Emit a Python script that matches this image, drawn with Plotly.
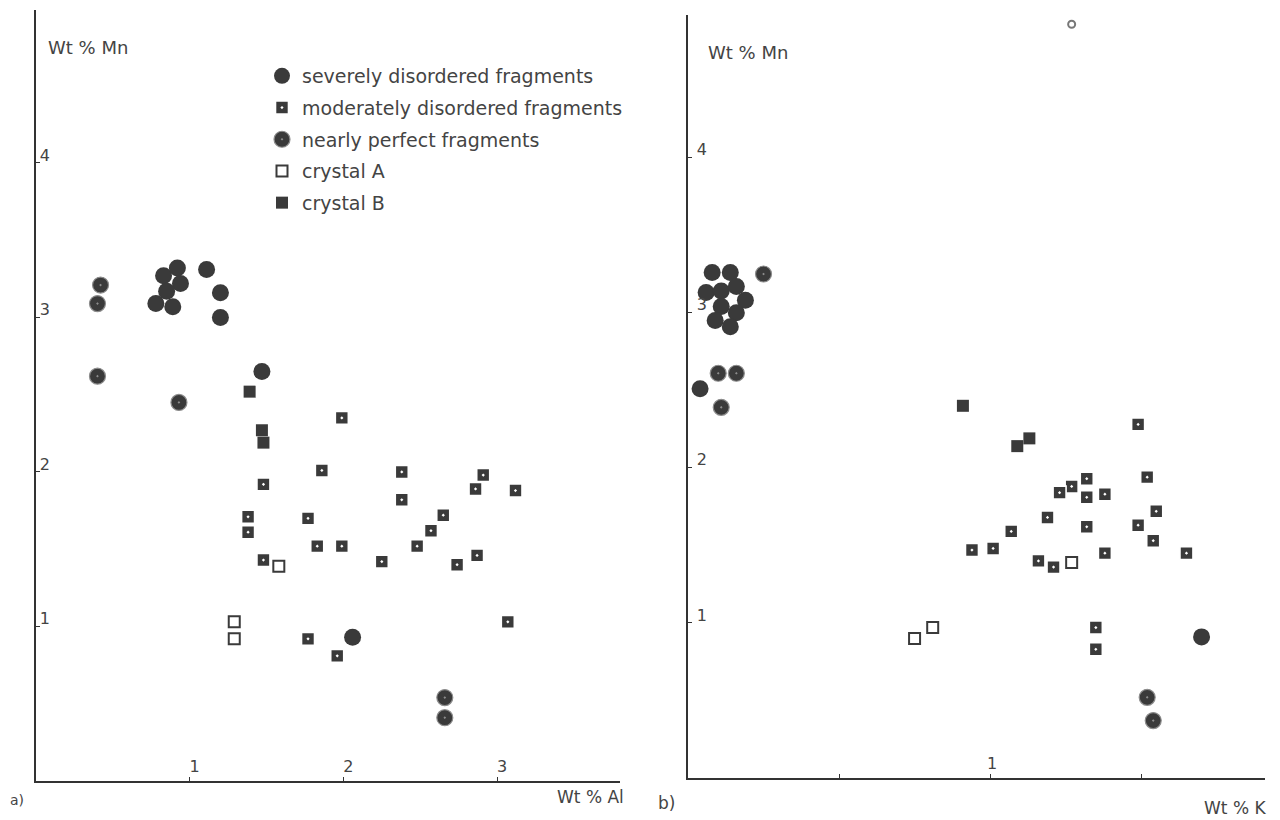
import plotly.graph_objects as go

# ---------------- Panel a: Wt % Al vs Wt % Mn ----------------
a_severe_x = [0.83, 0.92, 0.94, 0.85, 0.78, 0.89, 1.11, 1.20, 1.20, 1.47, 2.06]
a_severe_y = [3.27, 3.32, 3.22, 3.17, 3.09, 3.07, 3.31, 3.16, 3.00, 2.65, 0.93]

a_moderate_x = [1.99, 1.86, 1.48, 1.38, 1.38, 1.77, 1.83, 1.99, 1.48, 2.38, 2.38, 2.65,
                2.57, 2.48, 2.25, 2.91, 2.86, 3.12, 2.87, 2.74, 1.77, 1.96, 3.07]
a_moderate_y = [2.35, 2.01, 1.92, 1.71, 1.61, 1.70, 1.52, 1.52, 1.43, 2.00, 1.82, 1.72,
                1.62, 1.52, 1.42, 1.98, 1.89, 1.88, 1.46, 1.40, 0.92, 0.81, 1.03]

a_perfect_x = [0.42, 0.40, 0.40, 0.93, 2.66, 2.66]
a_perfect_y = [3.21, 3.09, 2.62, 2.45, 0.54, 0.41]

a_crystalA_x = [1.29, 1.29, 1.58]
a_crystalA_y = [1.03, 0.92, 1.39]

a_crystalB_x = [1.39, 1.47, 1.48]
a_crystalB_y = [2.52, 2.27, 2.19]

# ---------------- Panel b: Wt % K vs Wt % Mn ----------------
b_severe_x = [0.08, 0.14, 0.06, 0.11, 0.16, 0.19, 0.11, 0.16, 0.09, 0.14, 0.04, 1.70]
b_severe_y = [3.26, 3.26, 3.13, 3.14, 3.17, 3.08, 3.04, 3.00, 2.95, 2.91, 2.51, 0.91]

b_moderate_x = [1.49, 1.52, 1.55, 1.49, 1.54, 1.65, 1.32, 1.27, 1.23, 1.32, 1.38,
                1.19, 1.32, 1.07, 1.01, 0.94, 1.16, 1.21, 1.38, 1.35, 1.35]
b_moderate_y = [2.28, 1.94, 1.72, 1.63, 1.53, 1.45, 1.93, 1.88, 1.84, 1.81, 1.83,
                1.68, 1.62, 1.59, 1.48, 1.47, 1.40, 1.36, 1.45, 0.97, 0.83]

b_perfect_x = [0.25, 0.10, 0.16, 0.11, 1.52, 1.54]
b_perfect_y = [3.25, 2.61, 2.61, 2.39, 0.52, 0.37]

b_crystalA_x = [0.75, 0.81, 1.27]
b_crystalA_y = [0.90, 0.97, 1.39]

b_crystalB_x = [0.91, 1.09, 1.13]
b_crystalB_y = [2.40, 2.14, 2.19]

b_stray_x = [1.27]
b_stray_y = [4.86]

# ---------------- labels ----------------
series_names = ["severely disordered fragments", "moderately disordered fragments",
                "nearly perfect fragments", "crystal A", "crystal B"]
a_xtick_vals = [1, 2, 3]
a_xtick_text = ["1", "2", "3"]
b_xtick_vals = [0.5, 1, 1.5]
b_xtick_text = ["", "1", ""]
y_tick_vals = [1, 2, 3, 4]
y_tick_text = ["1", "2", "3", "4"]

INK = "#3a3a3a"
FONT = "DejaVu Sans"
W, H, OFF = 1280, 820, 8  # page body margin offsets the figure by 8px


def fx(px):
    return (px - OFF) / W


def fy(py):
    return (H + OFF - py) / H


styles = [
    dict(symbol="circle", size=17, color=INK, line=dict(color=INK, width=0)),
    dict(symbol="square-dot", size=13, color=INK, line=dict(color="white", width=1.6)),
    dict(symbol="circle-dot", size=16, color=INK, line=dict(color="#8c8c8c", width=1.2)),
    dict(symbol="square-open", size=11, color=INK, line=dict(color=INK, width=2)),
    dict(symbol="square", size=12, color=INK, line=dict(color=INK, width=0)),
]

fig = go.Figure()

a_sets = [(a_severe_x, a_severe_y), (a_moderate_x, a_moderate_y), (a_perfect_x, a_perfect_y),
          (a_crystalA_x, a_crystalA_y), (a_crystalB_x, a_crystalB_y)]
b_sets = [(b_severe_x, b_severe_y), (b_moderate_x, b_moderate_y), (b_perfect_x, b_perfect_y),
          (b_crystalA_x, b_crystalA_y), (b_crystalB_x, b_crystalB_y)]

for i, ((xs, ys), name) in enumerate(zip(a_sets, series_names)):
    fig.add_trace(go.Scatter(x=xs, y=ys, mode="markers", name=name, marker=styles[i],
                             xaxis="x", yaxis="y", legendgroup=f"g{i}", showlegend=True))
for i, ((xs, ys), name) in enumerate(zip(b_sets, series_names)):
    fig.add_trace(go.Scatter(x=xs, y=ys, mode="markers", name=name, marker=styles[i],
                             xaxis="x2", yaxis="y2", legendgroup=f"g{i}", showlegend=False))
fig.add_trace(go.Scatter(x=b_stray_x, y=b_stray_y, mode="markers", showlegend=False,
                         marker=dict(symbol="circle-open", size=7, color="#777", line=dict(width=2)),
                         xaxis="x2", yaxis="y2"))

axis_common = dict(showgrid=False, zeroline=False, showline=True, linecolor="#333",
                   linewidth=2, ticks="inside", ticklen=4, tickcolor="#333",
                   ticklabelposition="inside", tickfont=dict(family=FONT, size=16, color="#444"))

fig.update_layout(
    width=W, height=H,
    margin=dict(l=0, r=0, t=0, b=0),
    paper_bgcolor="white", plot_bgcolor="white",
    font=dict(family=FONT, color="#444"),
    xaxis=dict(domain=[fx(36), fx(620)], range=[0, 3.8], anchor="y",
               tickvals=a_xtick_vals, ticktext=a_xtick_text, ticklabelshift=5,
               ticklabelstandoff=2, **axis_common),
    yaxis=dict(domain=[fy(781), fy(10)], range=[0, 4.99], anchor="x",
               tickvals=y_tick_vals, ticktext=y_tick_text, ticklabelshift=-8, **axis_common),
    xaxis2=dict(domain=[fx(688), fx(1265)], range=[0, 1.91], anchor="y2",
                tickvals=b_xtick_vals, ticktext=b_xtick_text, ticklabelshift=2,
                ticklabelstandoff=2, **axis_common),
    yaxis2=dict(domain=[fy(778), fy(15)], range=[0, 4.92], anchor="x2",
                tickvals=y_tick_vals, ticktext=y_tick_text, ticklabelshift=-8,
                ticklabelstandoff=5, **axis_common),
    legend=dict(x=fx(262), y=fy(57), xanchor="left", yanchor="top",
                bgcolor="rgba(0,0,0,0)", font=dict(family=FONT, size=19, color="#444"),
                tracegroupgap=4, itemsizing="trace"),
    annotations=[
        dict(text="Wt % Mn", x=fx(46), y=fy(47), xref="paper", yref="paper",
             xanchor="left", yanchor="middle", showarrow=False, font=dict(size=18, family=FONT)),
        dict(text="Wt % Mn", x=fx(706), y=fy(52), xref="paper", yref="paper",
             xanchor="left", yanchor="middle", showarrow=False, font=dict(size=18, family=FONT)),
        dict(text="Wt % Al", x=fx(626), y=fy(797), xref="paper", yref="paper",
             xanchor="right", yanchor="middle", showarrow=False, font=dict(size=17, family=FONT)),
        dict(text="Wt % K", x=fx(1268), y=fy(808), xref="paper", yref="paper",
             xanchor="right", yanchor="middle", showarrow=False, font=dict(size=17, family=FONT)),
        dict(text="a)", x=fx(8), y=fy(800), xref="paper", yref="paper",
             xanchor="left", yanchor="middle", showarrow=False, font=dict(size=14, family=FONT)),
        dict(text="b)", x=fx(656), y=fy(803), xref="paper", yref="paper",
             xanchor="left", yanchor="middle", showarrow=False, font=dict(size=17, family=FONT)),
    ],
)

fig.write_html("out.html")
